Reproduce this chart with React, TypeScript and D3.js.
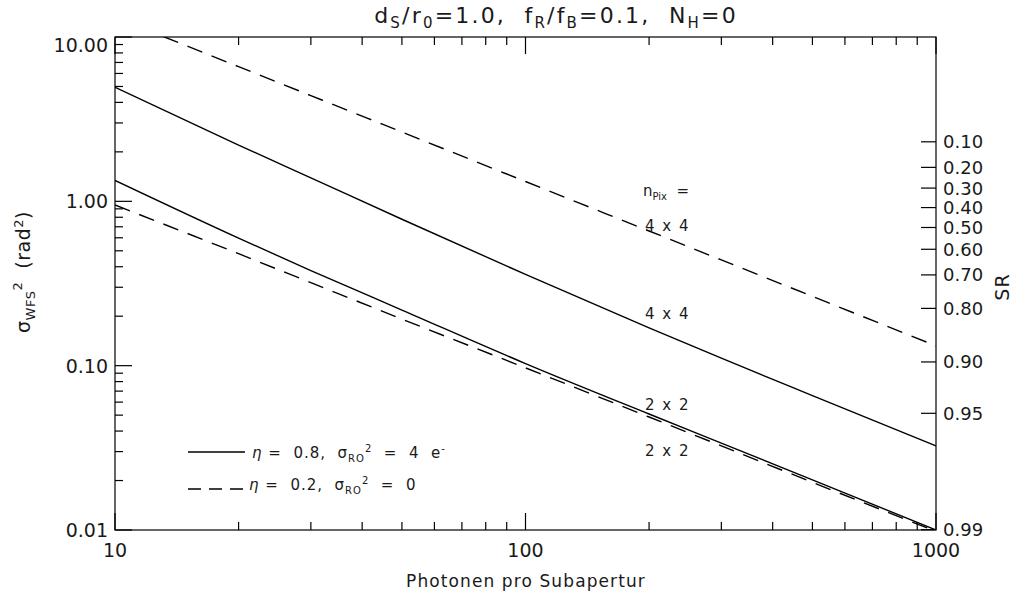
import React from "react";
import * as d3 from "d3";

const photons = [10, 20, 30, 50, 100, 200, 300, 500, 1000];
const solid4x4 = [4.95, 2.2, 1.39, 0.778, 0.359, 0.17, 0.111, 0.0658, 0.0325];
const solid2x2 = [1.34, 0.597, 0.379, 0.218, 0.103, 0.0508, 0.0338, 0.0202, 0.01];
const dashed4x4 = [13.2, 6.6, 4.4, 2.64, 1.32, 0.66, 0.44, 0.264, 0.132];
const dashed2x2 = [0.95, 0.48, 0.32, 0.192, 0.097, 0.0487, 0.0325, 0.0195, 0.0098];

const yTickValues = [0.01, 0.1, 1, 10];
const yTickLabels = ["0.01", "0.10", "1.00", "10.00"];
const xTickValues = [10, 100, 1000];
const xTickLabels = ["10", "100", "1000"];
const srTicks = [0.1, 0.2, 0.3, 0.4, 0.5, 0.6, 0.7, 0.8, 0.9, 0.95, 0.99];
const srLabels = ["0.10", "0.20", "0.30", "0.40", "0.50", "0.60", "0.70", "0.80", "0.90", "0.95", "0.99"];

const W = 1016;
const H = 599;
const L = 115;
const R = 936;
const T = 37;
const B = 530;
const FONT = "'DejaVu Sans', sans-serif";
const TXT = "#1a1a1a";

export default function App() {
  const x = d3.scaleLog().domain([10, 1000]).range([L, R]);
  const y = d3.scaleLog().domain([0.01, 10]).range([B, T]);

  const line = d3
    .line<[number, number]>()
    .x((d) => x(d[0]))
    .y((d) => y(d[1]))
    .curve(d3.curveMonotoneX);

  const mk = (vals: number[]) => line(photons.map((p, i) => [p, vals[i]] as [number, number])) || "";

  const yMinor: number[] = [];
  [0.01, 0.1, 1].forEach((dec) => {
    for (let k = 2; k <= 9; k++) yMinor.push(dec * k);
  });
  const xMinor: number[] = [];
  [10, 100].forEach((dec) => {
    for (let k = 2; k <= 9; k++) xMinor.push(dec * k);
  });

  const tickFs = 19;

  return (
    <svg
      width={W}
      height={H}
      style={{ position: "absolute", left: 0, top: 0, display: "block", background: "#fff" }}
    >
      <defs>
        <clipPath id="plotclip">
          <rect x={L} y={T} width={R - L} height={B - T} />
        </clipPath>
      </defs>

      {/* Title */}
      <text
        x={556}
        y={23}
        textAnchor="middle"
        fontFamily={FONT}
        fontSize={22}
        letterSpacing={2.2}
        fill={TXT}
        xmlSpace="preserve"
      >
        <tspan>d</tspan>
        <tspan fontSize={15} dy={5}>S</tspan>
        <tspan dy={-5}>/r</tspan>
        <tspan fontSize={15} dy={5}>0</tspan>
        <tspan dy={-5}>=1.0,  f</tspan>
        <tspan fontSize={15} dy={5}>R</tspan>
        <tspan dy={-5}>/f</tspan>
        <tspan fontSize={15} dy={5}>B</tspan>
        <tspan dy={-5}>=0.1,  N</tspan>
        <tspan fontSize={15} dy={5}>H</tspan>
        <tspan dy={-5}>=0</tspan>
      </text>

      {/* Box */}
      <rect x={L} y={T} width={R - L} height={B - T} fill="none" stroke="#000" strokeWidth={1.2} />

      {/* Left axis ticks */}
      {yTickValues.map((v) => (
        <line key={"ym" + v} x1={L} x2={L + 17} y1={y(v)} y2={y(v)} stroke="#000" strokeWidth={1.2} />
      ))}
      {yMinor.map((v) => (
        <line key={"yn" + v} x1={L} x2={L + 8} y1={y(v)} y2={y(v)} stroke="#000" strokeWidth={1.2} />
      ))}
      {yTickValues.map((v, i) => (
        <text
          key={"yl" + v}
          x={L - 7}
          y={v === 10 ? y(v) + 15 : y(v) + 7}
          textAnchor="end"
          fontFamily={FONT}
          fontSize={tickFs}
          fill={TXT}
        >
          {yTickLabels[i]}
        </text>
      ))}

      {/* Bottom & top axis ticks */}
      {xTickValues.map((v) => (
        <g key={"xm" + v}>
          <line x1={x(v)} x2={x(v)} y1={B} y2={B - 17} stroke="#000" strokeWidth={1.2} />
          <line x1={x(v)} x2={x(v)} y1={T} y2={T + 17} stroke="#000" strokeWidth={1.2} />
        </g>
      ))}
      {xMinor.map((v) => (
        <g key={"xn" + v}>
          <line x1={x(v)} x2={x(v)} y1={B} y2={B - 8} stroke="#000" strokeWidth={1.2} />
          <line x1={x(v)} x2={x(v)} y1={T} y2={T + 8} stroke="#000" strokeWidth={1.2} />
        </g>
      ))}
      {xTickValues.map((v, i) => (
        <text key={"xl" + v} x={x(v)} y={B + 27} textAnchor="middle" fontFamily={FONT} fontSize={tickFs} fill={TXT}>
          {xTickLabels[i]}
        </text>
      ))}

      {/* Right SR axis */}
      {srTicks.map((sr, i) => {
        const yy = y(-Math.log(sr));
        return (
          <g key={"sr" + sr}>
            <line x1={R - 15} x2={R} y1={yy} y2={yy} stroke="#000" strokeWidth={1.2} />
            <text x={R + 7} y={yy + 6.5} fontFamily={FONT} fontSize={18} fill={TXT}>
              {srLabels[i]}
            </text>
          </g>
        );
      })}
      <text
        transform={`translate(1009,287) rotate(-90)`}
        textAnchor="middle"
        fontFamily={FONT}
        fontSize={19}
        letterSpacing={1}
        fill={TXT}
      >
        SR
      </text>

      {/* Axis labels */}
      <text x={526} y={587} textAnchor="middle" fontFamily={FONT} fontSize={17} letterSpacing={1.1} fill={TXT}>
        Photonen pro Subapertur
      </text>
      <text
        transform={`translate(30,272) rotate(-90)`}
        textAnchor="middle"
        fontFamily={FONT}
        fontSize={19}
        letterSpacing={0.5}
        fill={TXT}
        xmlSpace="preserve"
      >
        <tspan>σ</tspan>
        <tspan fontSize={13} dy={5}>WFS</tspan>
        <tspan fontSize={13} dy={-13}>2</tspan>
        <tspan dy={8}>  (rad</tspan>
        <tspan fontSize={13} dy={-7}>2</tspan>
        <tspan dy={7}>)</tspan>
      </text>

      {/* Curves */}
      <g clipPath="url(#plotclip)" fill="none" stroke="#000" strokeWidth={1.4}>
        <path d={mk(solid4x4)} />
        <path d={mk(solid2x2)} />
        <path d={mk(dashed4x4)} strokeDasharray="16,10" />
        <path d={mk(dashed2x2)} strokeDasharray="16,10" />
      </g>

      {/* Curve annotations */}
      <text x={643} y={196} fontFamily={FONT} fontSize={15} fill={TXT} xmlSpace="preserve">
        <tspan>n</tspan>
        <tspan fontSize={10} dy={4}>Pix</tspan>
        <tspan dy={-4}>  =</tspan>
      </text>
      {[
        { t: "4 x 4", yy: 231 },
        { t: "4 x 4", yy: 319 },
        { t: "2 x 2", yy: 410 },
        { t: "2 x 2", yy: 456 },
      ].map((a, i) => (
        <text
          key={"ann" + i}
          x={645}
          y={a.yy}
          fontFamily={FONT}
          fontSize={15}
          letterSpacing={1.5}
          fill={TXT}
          xmlSpace="preserve"
        >
          {a.t}
        </text>
      ))}

      {/* Legend */}
      <line x1={188} x2={245} y1={452} y2={452} stroke="#000" strokeWidth={1.4} />
      <text x={252} y={458} fontFamily={FONT} fontSize={15} letterSpacing={1} fill={TXT} xmlSpace="preserve">
        <tspan fontStyle="italic">η</tspan>
        <tspan> =  0.8,  σ</tspan>
        <tspan fontSize={10} dy={4}>RO</tspan>
        <tspan fontSize={10} dy={-10}>2</tspan>
        <tspan dy={6}>  =  4  e</tspan>
        <tspan fontSize={10} dy={-6}>-</tspan>
      </text>
      <line x1={188} x2={245} y1={489} y2={489} stroke="#000" strokeWidth={1.4} strokeDasharray="13,8" />
      <text x={249} y={490} fontFamily={FONT} fontSize={15} letterSpacing={1} fill={TXT} xmlSpace="preserve">
        <tspan fontStyle="italic">η</tspan>
        <tspan> =  0.2,  σ</tspan>
        <tspan fontSize={10} dy={4}>RO</tspan>
        <tspan fontSize={10} dy={-10}>2</tspan>
        <tspan dy={6}>  =  0</tspan>
      </text>
    </svg>
  );
}
